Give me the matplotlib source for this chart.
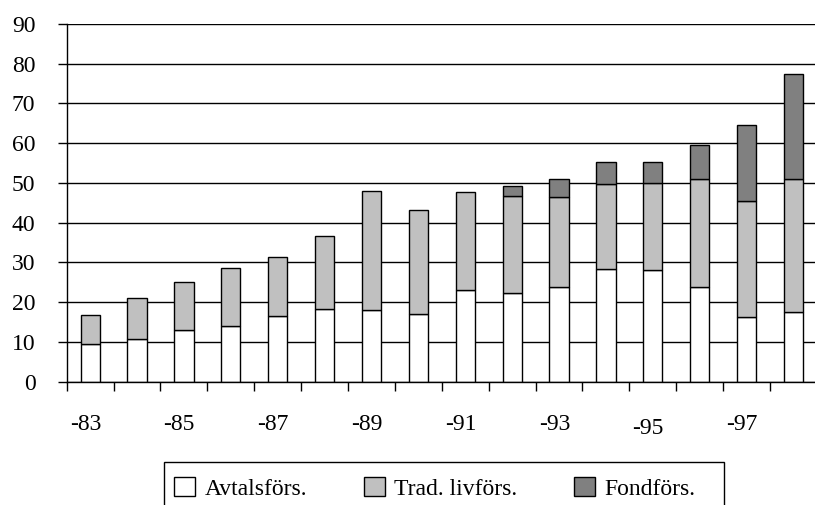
import numpy as np
import matplotlib.pyplot as plt
from matplotlib.patches import Patch, Rectangle

plt.rcParams['font.family'] = ['Liberation Serif', 'DejaVu Serif']

# Data
years = ["-83", "-84", "-85", "-86", "-87", "-88", "-89", "-90",
         "-91", "-92", "-93", "-94", "-95", "-96", "-97", "-98"]
avtal = [9.5, 10.7, 12.9, 14.1, 16.4, 18.3, 18.0, 17.0,
         23.1, 22.4, 23.9, 28.4, 28.0, 23.9, 16.3, 17.5]
trad = [7.2, 10.4, 12.3, 14.4, 14.9, 18.4, 30.1, 26.1,
        24.7, 24.3, 22.6, 21.3, 22.0, 27.0, 29.2, 33.4]
fond = [0, 0, 0, 0, 0, 0, 0, 0,
        0, 2.6, 4.4, 5.6, 5.3, 8.6, 19.2, 26.6]
series_names = ["Avtalsförs.", "Trad. livförs.", "Fondförs."]
colors = ["white", "#c0c0c0", "#808080"]

fig = plt.figure(figsize=(8.15, 5.05), dpi=100)
ax = fig.add_axes([0.0818, 0.2442, 0.9206, 0.7083])

x = np.arange(len(years))
w = 0.41
bottom = np.zeros(len(years))
for vals, c in zip([avtal, trad, fond], colors):
    vals = np.array(vals)
    mask = vals > 0
    ax.bar(x[mask], vals[mask], w, bottom=bottom[mask], color=c,
           edgecolor="black", linewidth=1.0)
    bottom += vals

ax.set_xlim(-0.5, len(years) - 0.5)
ax.set_ylim(0, 90)
ax.set_yticks(np.arange(0, 91, 10))
ax.yaxis.grid(True, color="black", linewidth=1.0)
ax.set_axisbelow(True)

# labels sit a touch left of the category centres in the original
ax.set_xticks(x[::2] - 0.1)
ax.set_xticklabels(years[::2])
ax.set_xticks(np.arange(-0.5, len(years), 1), minor=True)
ax.tick_params(axis="x", which="major", length=0, pad=23.5, labelsize=17)
ax.tick_params(axis="x", which="minor", length=6.5, width=1.0)
ax.tick_params(axis="y", length=6.5, width=1.0, pad=16, labelsize=17)

for s in ["top", "right"]:
    ax.spines[s].set_visible(False)
for s in ["left", "bottom"]:
    ax.spines[s].set_linewidth(1.0)

# the -95 label sits a little lower in the original
ax.xaxis.get_major_ticks()[6].set_pad(26.5)

# legend: entries without frame, box drawn separately (runs off the bottom)
handles = [Patch(facecolor=c, edgecolor="black", linewidth=1.0) for c in colors]
leg = fig.legend(handles, series_names, loc="upper left", ncol=3,
                 bbox_to_anchor=(164 / 815, 1 - 467 / 505),
                 fontsize=17, frameon=False, borderpad=0.42,
                 handlelength=0.89, handleheight=0.85, handletextpad=0.4,
                 columnspacing=2.4, borderaxespad=0)
fig.patches.append(Rectangle((164 / 815, -0.02), (723.5 - 164) / 815,
                             1 - 462 / 505 + 0.02, transform=fig.transFigure,
                             facecolor="none", edgecolor="black", linewidth=1.0))

plt.savefig("out.png", dpi=100)
